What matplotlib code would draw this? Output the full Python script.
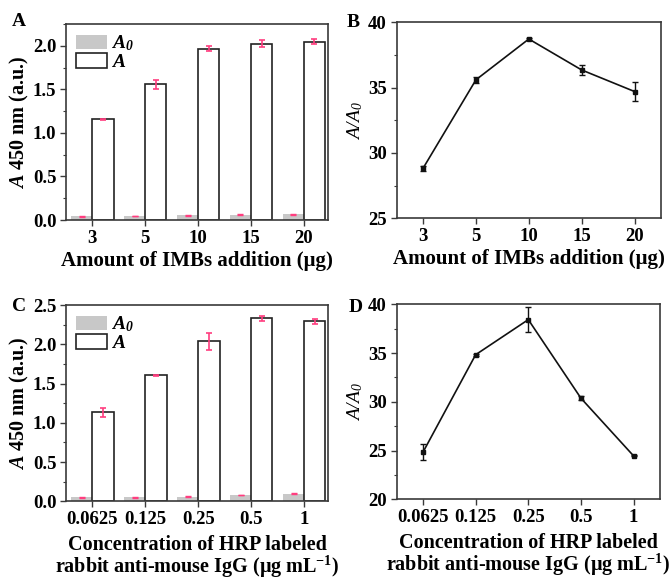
import numpy as np
import matplotlib
matplotlib.use("Agg")
import matplotlib.pyplot as plt
from matplotlib.ticker import MultipleLocator, FormatStrFormatter
from matplotlib.patches import Patch

plt.rcParams['font.family'] = ['Liberation Serif', 'DejaVu Serif']
plt.rcParams['font.weight'] = 'bold'
plt.rcParams['axes.labelweight'] = 'bold'
plt.rcParams['mathtext.fontset'] = 'custom'
plt.rcParams['mathtext.rm'] = 'Liberation Serif:bold'
plt.rcParams['mathtext.it'] = 'Liberation Serif:italic:bold'
plt.rcParams['mathtext.bf'] = 'Liberation Serif:bold'
plt.rcParams['mathtext.bfit'] = 'Liberation Serif:italic:bold'
plt.rcParams['mathtext.sf'] = 'Liberation Serif:style=italic:weight=normal'

# panel A / B: amount of IMBs
imb_labels = ['3', '5', '10', '15', '20']
imb_a0 = [0.042, 0.046, 0.054, 0.061, 0.065]
imb_a0_err = [0.003, 0.003, 0.003, 0.003, 0.003]
imb_a = [1.155, 1.558, 1.968, 2.026, 2.049]
imb_a_err = [0.01, 0.055, 0.03, 0.045, 0.027]
imb_ratio = [28.83, 35.6, 38.72, 36.35, 34.7]
imb_ratio_err = [0.2, 0.25, 0.05, 0.36, 0.75]

# panel C / D: HRP labeled antibody concentration
hrp_labels = ['0.0625', '0.125', '0.25', '0.5', '1']
hrp_a0 = [0.051, 0.051, 0.059, 0.081, 0.098]
hrp_a0_err = [0.003, 0.003, 0.003, 0.003, 0.003]
hrp_a = [1.133, 1.604, 2.037, 2.33, 2.296]
hrp_a_err = [0.057, 0.005, 0.108, 0.036, 0.032]
hrp_ratio = [24.83, 34.83, 38.43, 30.37, 24.45]
hrp_ratio_err = [0.8, 0.1, 1.3, 0.2, 0.05]

TICK_FS = 13.5
XLAB_FS = 15
GREY = '#c8c8c8'
PINK = '#ff3d7f'
SPINE = '#3a3a3a'

fig = plt.figure(figsize=(6.7, 5.79), dpi=100)
axA = fig.add_axes([0.0985, 0.620, 0.3905, 0.3385])
axB = fig.add_axes([0.592, 0.623, 0.3946, 0.3385])
axC = fig.add_axes([0.0985, 0.1342, 0.3911, 0.339])
axD = fig.add_axes([0.592, 0.1376, 0.393, 0.3368])


def style(ax):
    for s in ax.spines.values():
        s.set_color(SPINE)
        s.set_linewidth(1.2)
    ax.tick_params(axis='both', which='both', direction='out', labelsize=TICK_FS,
                   top=False, right=False, color=SPINE)
    ax.tick_params(axis='both', which='major', length=4, width=1.0, pad=3)
    ax.tick_params(axis='y', which='minor', length=2.5, width=0.8)
    ax.tick_params(axis='x', which='minor', bottom=False)


def bar_panel(ax, labels, a0, a0_err, a, a_err, ymax):
    x = np.arange(len(labels))
    w = 0.4
    ax.bar(x - w / 2, a0, w, color=GREY, edgecolor='none')
    ax.bar(x + w / 2, a, w, color='white', edgecolor='#222222', linewidth=1.2)
    ax.errorbar(x - w / 2, a0, yerr=a0_err, fmt='none', ecolor=PINK,
                elinewidth=1.0, capsize=2.5, capthick=1.0)
    ax.errorbar(x + w / 2, a, yerr=a_err, fmt='none', ecolor=PINK,
                elinewidth=1.2, capsize=2.5, capthick=1.2)
    ax.set_xticks(x)
    ax.set_xticklabels(labels)
    ax.set_xlim(-0.5, 4.45)
    ax.set_ylim(0, ymax)
    ax.yaxis.set_major_locator(MultipleLocator(0.5))
    ax.yaxis.set_minor_locator(MultipleLocator(0.25))
    ax.yaxis.set_major_formatter(FormatStrFormatter('%.1f'))
    ax.set_ylabel(r'$\mathbfit{A}$ 450 nm (a.u.)', fontsize=14.5, labelpad=1)
    handles = [Patch(facecolor=GREY, edgecolor='none'),
               Patch(facecolor='white', edgecolor='#222222', linewidth=1.2)]
    ax.legend(handles, [r'$\mathbfit{A}_{\mathbfit{0}}$', r'$\mathbfit{A}$'],
              loc='upper left', frameon=False, fontsize=14,
              handlelength=1.6, handleheight=0.75, handletextpad=0.2,
              labelspacing=0.0, borderaxespad=0.3, borderpad=0.2)
    style(ax)


def line_panel(ax, labels, ratio, ratio_err, ymin, ymax):
    x = np.arange(len(labels))
    ax.errorbar(x, ratio, yerr=ratio_err, color='#111111', linewidth=1.2,
                marker='s', markersize=3.5, elinewidth=1.0, capsize=2.5,
                capthick=1.0)
    ax.set_xticks(x)
    ax.set_xticklabels(labels)
    ax.set_xlim(-0.5, 4.5)
    ax.set_ylim(ymin, ymax)
    ax.yaxis.set_major_locator(MultipleLocator(5))
    ax.yaxis.set_minor_locator(MultipleLocator(2.5))
    ax.set_ylabel(r'$\mathsf{A/A_0}$', fontsize=14, labelpad=2)
    style(ax)


bar_panel(axA, imb_labels, imb_a0, imb_a0_err, imb_a, imb_a_err, 2.25)
line_panel(axB, imb_labels, imb_ratio, imb_ratio_err, 25, 40)
bar_panel(axC, hrp_labels, hrp_a0, hrp_a0_err, hrp_a, hrp_a_err, 2.5)
line_panel(axD, hrp_labels, hrp_ratio, hrp_ratio_err, 20, 40)

xl_imb = 'Amount of IMBs addition (μg)'
xl_hrp = 'Concentration of HRP labeled\nrabbit anti-mouse IgG (μg mL$^{-1}$)'
axA.set_xlabel(xl_imb, fontsize=XLAB_FS, labelpad=3)
axB.set_xlabel(xl_imb, fontsize=XLAB_FS, labelpad=3)
axC.set_xlabel(xl_hrp, fontsize=14.5, labelpad=5, linespacing=0.92)
axD.set_xlabel(xl_hrp, fontsize=14.5, labelpad=5, linespacing=0.92)

fig.text(12 / 670, 1 - 26 / 579, 'A', fontsize=14, fontweight='bold')
fig.text(347 / 670, 1 - 27 / 579, 'B', fontsize=14, fontweight='bold')
fig.text(12 / 670, 1 - 311 / 579, 'C', fontsize=14, fontweight='bold')
fig.text(349 / 670, 1 - 312 / 579, 'D', fontsize=14, fontweight='bold')

fig.savefig('out.png', dpi=100)
